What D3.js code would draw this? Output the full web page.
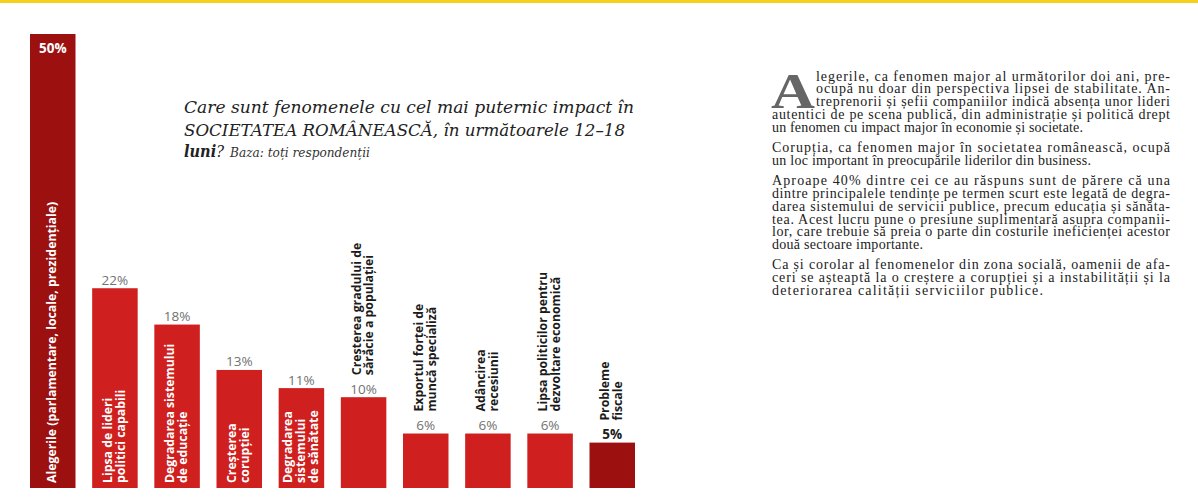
<!DOCTYPE html>
<html>
<head>
<meta charset="utf-8">
<script src="https://cdn.jsdelivr.net/npm/d3@7"></script>
<style>
body { margin: 0; background: #fff; }
svg { display: block; }
</style>
</head>
<body>
<div id="chart"></div>
<script>

/* data */
const labelLines = [
	["Alegerile (parlamentare, locale, prezidențiale)"],
	["Lipsa de lideri", "politici capabili"],
	["Degradarea sistemului", "de educație"],
	["Creșterea", "corupției"],
	["Degradarea", "sistemului", "de sănătate"],
	["Creșterea gradului de", "sărăcie a populației"],
	["Exportul forței de", "muncă specializă"],
	["Adâncirea", "recesiunii"],
	["Lipsa politicilor pentru", "dezvoltare economică"],
	["Probleme", "fiscale"]
];
const values = [50, 22, 18, 13, 11, 10, 6, 6, 6, 5];
const valueLabels = ["50%", "22%", "18%", "13%", "11%", "10%", "6%", "6%", "6%", "5%"];

const titleLines = [
	"Care sunt fenomenele cu cel mai puternic impact în",
	"SOCIETATEA ROMÂNEASCĂ,  în următoarele 12–18"
];
const titleLast = "luni";
const baseNote = "Baza: toți respondenții";

const paragraphs = [
	["legerile, ca fenomen major al următorilor doi ani, pre-",
	 "ocupă nu doar din perspectiva lipsei de stabilitate. An-",
	 "treprenorii și șefii companiilor indică absența unor lideri",
	 "autentici de pe scena publică, din administrație și politică drept",
	 "un fenomen cu impact major în economie și societate."],
	["Corupția, ca fenomen major în societatea românească, ocupă",
	 "un loc important în preocupările liderilor din business."],
	["Aproape 40% dintre cei ce au răspuns sunt de părere că una",
	 "dintre principalele tendințe pe termen scurt este legată de degra-",
	 "darea sistemului de servicii publice, precum educația și sănăta-",
	 "tea. Acest lucru pune o presiune suplimentară asupra companii-",
	 "lor, care trebuie să preia o parte din costurile ineficienței acestor",
	 "două sectoare importante."],
	["Ca și corolar al fenomenelor din zona socială, oamenii de afa-",
	 "ceri se așteaptă la o creștere a corupției și a instabilității și la",
	 "deteriorarea calității serviciilor publice."]
];
const dropCap = "A";


const W = 1198, H = 502;
const red = "#cf1f1f", dark = "#9c1010";
const sans = "'Open Sans', 'Noto Sans', sans-serif";
const slab = "'DejaVu Serif', serif";
const serif = "'Liberation Serif', serif";

const svg = d3.select("#chart").append("svg").attr("width", W).attr("height", H);

/* yellow rule along the top */
svg.append("rect").attr("x", 0).attr("y", 0).attr("width", W).attr("height", 3).attr("fill", "#f6d11b");

const x = d3.scaleBand()
	.domain(d3.range(values.length))
	.range([30, 635])
	.paddingInner(0.268)
	.paddingOuter(0);

const y = d3.scaleLinear()
	.domain([0, 50])
	.range([488, 34]);

const vMax = d3.max(values), vMin = d3.min(values);
const bw = x.bandwidth();

svg.selectAll("rect.bar").data(values).join("rect")
	.attr("class", "bar")
	.attr("x", (d, i) => x(i))
	.attr("y", d => y(d))
	.attr("width", bw)
	.attr("height", d => y(0) - y(d))
	.attr("fill", d => (d === vMax || d === vMin) ? dark : red);

/* category labels, rotated; inside the bar when they fit */
const labelSize = 12.3, lh = 12.8;

function textWidth(str) {
	const t = svg.append("text")
		.attr("font-family", sans).attr("font-size", labelSize).attr("font-weight", 700)
		.text(str);
	const w = t.node().getComputedTextLength();
	t.remove();
	return w;
}

labelLines.forEach((lines, i) => {
	const v = values[i];
	const barH = y(0) - y(v);
	const longest = d3.max(lines, textWidth);
	const inside = longest + 14 < barH;
	const cx = x(i) + bw / 2;
	const baseY = inside ? y(0) - 5 : y(v) - 22;
	lines.forEach((line, j) => {
		const bx = cx + (j - (lines.length - 1) / 2) * lh + 3.5;
		svg.append("text")
			.attr("transform", "translate(" + bx + "," + baseY + ") rotate(-90)")
			.attr("font-family", sans)
			.attr("font-size", labelSize)
			.attr("font-weight", 700)
			.attr("fill", inside ? "#fff" : "#1b1b1b")
			.text(line);
	});
});

/* value labels */
svg.selectAll("text.val").data(values).join("text")
	.attr("class", "val")
	.attr("x", (d, i) => x(i) + bw / 2)
	.attr("y", d => d === vMax ? y(d) + 18.5 : y(d) - 3.5)
	.attr("text-anchor", "middle")
	.attr("font-family", sans)
	.attr("font-size", 13.5)
	.attr("font-weight", d => (d === vMax || d === vMin) ? 700 : 400)
	.attr("fill", d => d === vMax ? "#fff" : (d === vMin ? "#1b1b1b" : "#727272"))
	.text((d, i) => valueLabels[i]);

/* title */
const titleW = [450, 441];
titleLines.forEach((line, i) => {
	svg.append("text")
		.attr("x", 184).attr("y", 113 + i * 22.5)
		.attr("font-family", slab)
		.attr("font-style", "italic")
		.attr("font-size", 17.5)
		.attr("fill", "#222")
		.attr("textLength", titleW[i])
		.attr("lengthAdjust", "spacingAndGlyphs")
		.text(line);
});
const t3 = svg.append("text")
	.attr("x", 184).attr("y", 157)
	.attr("font-family", slab).attr("font-style", "italic").attr("font-size", 17.5).attr("fill", "#222")
	.attr("textLength", 40).attr("lengthAdjust", "spacingAndGlyphs");
t3.append("tspan").attr("font-weight", 600).text(titleLast);
t3.append("tspan").text("?");
svg.append("text")
	.attr("x", 230).attr("y", 157)
	.attr("font-family", slab).attr("font-style", "italic").attr("font-size", 12).attr("fill", "#333")
	.attr("textLength", 140).attr("lengthAdjust", "spacingAndGlyphs")
	.text(baseNote);

/* article text on the right */
svg.append("text")
	.attr("x", 771).attr("y", 107.5)
	.attr("font-family", serif)
	.attr("font-size", 51)
	.attr("font-weight", 700)
	.attr("fill", "#666")
	.attr("textLength", 44)
	.attr("lengthAdjust", "spacingAndGlyphs")
	.text(dropCap);

const colL = 772, colR = 1170, indentL = 816;
const lastLineW = [311, 319, 151, 271];
const bodyLh = 12.9, paraGap = 7;
let by = 80.5;
paragraphs.forEach((para, p) => {
	para.forEach((line, j) => {
		const lx = (p === 0 && j < 3) ? indentL : colL;
		const last = j === para.length - 1;
		svg.append("text")
			.attr("x", lx).attr("y", by)
			.attr("font-family", serif)
			.attr("font-size", 14)
			.attr("fill", "#222")
			.attr("textLength", last ? lastLineW[p] : colR - lx)
			.attr("lengthAdjust", "spacing")
			.text(line);
		by += bodyLh;
	});
	by += paraGap;
});

</script>
</body>
</html>
